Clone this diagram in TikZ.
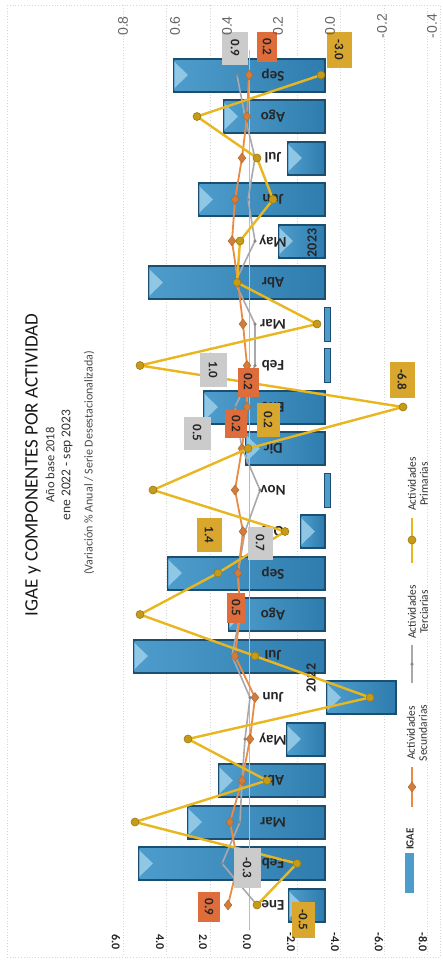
\documentclass[tikz,border=0pt]{standalone}
\usepackage{fontspec}
\setmainfont{Carlito}
\newfontfamily\arialf{Liberation Sans}
\usetikzlibrary{shapes.geometric}
\definecolor{barc}{HTML}{2F7DAE}
\definecolor{barm}{HTML}{4E9CCB}
\definecolor{bard}{HTML}{1B4F72}
\definecolor{barl}{HTML}{A6D6EE}
\definecolor{yelc}{HTML}{E8B61E}
\definecolor{yeld}{HTML}{9C7A10}
\definecolor{orac}{HTML}{E98A45}
\definecolor{orad}{HTML}{B06A28}
\definecolor{grac}{HTML}{A9A9AD}
\definecolor{boxg}{HTML}{CBCBCB}
\definecolor{boxo}{HTML}{DE6D3B}
\definecolor{boxy}{HTML}{D9A62E}
\definecolor{gridc}{HTML}{D6D6D6}
\tikzset{
  mlab/.style={rotate=180, font=\bfseries\fontsize{15}{15}\selectfont, text=black!85, inner sep=0pt},
  dl/.style={rotate=-90, font=\bfseries\fontsize{13}{13}\selectfont, text=black!85, inner sep=0pt},
  lax/.style={rotate=-90, font=\bfseries\fontsize{12}{12}\selectfont, text=black!85, inner sep=0pt},
  rax/.style={rotate=90, font=\arialf\fontsize{14}{14}\selectfont, text=black!60, inner sep=0pt},
  leg/.style={rotate=90, font=\fontsize{11.5}{12}\selectfont, text=black!80, align=center, inner sep=0pt},
  yline/.style={draw=yelc, line width=2.4pt, line join=round},
  oline/.style={draw=orac, line width=1.8pt, line join=round},
  gline/.style={draw=grac, line width=1.6pt, line join=round},
  ymark/.style={circle, fill=yelc!85!black, draw=yeld, line width=0.6pt, minimum size=8pt, inner sep=0pt},
  omark/.style={diamond, fill=orac!90!black, draw=orad, line width=0.5pt, minimum width=8pt, minimum height=10pt, inner sep=0pt},
  gmark/.style={circle, fill=grac!80!black, minimum size=3.5pt, inner sep=0pt},
  gridl/.style={draw=gridc, dotted, line width=0.8pt}
}
\begin{document}
\begin{tikzpicture}[x=1pt,y=-1pt]
\useasboundingbox (0,0) rectangle (443,972);
\fill[white] (0,0) rectangle (443,972);
% frame and grid
\draw[gridl] (7,5) rectangle (440,957);
\foreach \gx in {123,166,210,297,340,384,427} \draw[gridl] (\gx,5) -- (\gx,957);
% bars (wide)
\foreach \i/\a/\b in {0/288/326,1/138/326,2/187/326,3/218/326,4/286/326,5/326/397,6/133/326,7/228/326,8/167/326,9/300/326,11/245/326,12/203/326,15/148/326,16/278/326,17/198/326,18/287/326,19/223/326,20/173/326}{
  \pgfmathsetmacro\yc{905-41.5*\i}
  \fill[bard] (\a,\yc-17.5) rectangle (\b,\yc+17.5);
  \shade[left color=barm, right color=barc] (\a+1.5,\yc-15) rectangle (\b-2.5,\yc+15);
  \fill[barl, opacity=0.75] (\a+1.5,\yc-13) -- (\a+15,\yc) -- (\a+1.5,\yc+13) -- cycle;
}
% thin bars
\foreach \i in {10,13,14}{
  \pgfmathsetmacro\yc{905-41.5*\i}
  \fill[barm] (324,\yc-17) rectangle (330,\yc+17);
  \draw[bard, line width=0.5pt] (324,\yc-17) rectangle (330,\yc+17);
}
% zero line
\draw[gridc!70!gray, line width=0.8pt] (249,50) -- (249,930);
% month labels
\foreach \i/\m in {0/Ene,1/Feb,2/Mar,3/Abr,4/May,5/Jun,6/Jul,7/Ago,8/Sep,9/Oct,10/Nov,11/Dic,12/Ene,13/Feb,14/Mar,15/Abr,16/May,17/Jun,18/Jul,19/Ago,20/Sep}
  \node[mlab] (m\i) at (273,{905-41.5*\i}) {\m};
\node[rotate=90, font=\bfseries\fontsize{14}{14}\selectfont, text=black!85, inner sep=0pt] (y22) at (311,678) {2022};
\node[rotate=90, font=\bfseries\fontsize{14}{14}\selectfont, text=black!85, inner sep=0pt] (y23) at (312,243) {2023};
% series coordinates
\foreach \v [count=\k from 0] in {257,222,240,242,245,250,232,240,238,245,260,242,235,255,255,235,255,248,255,245,237}
  \coordinate (G\k) at (\v,{905-41.5*\k});
\foreach \v [count=\k from 0] in {228,238,230,242,250,255,235,240,238,243,235,242,247,247,243,238,232,235,242,247,249}
  \coordinate (O\k) at (\v,{905-41.5*\k});
\foreach \v [count=\k from 0] in {257,297,135,267,188,370,255,140,218,285,153,248,403,140,317,237,240,273,257,197,321}
  \coordinate (Y\k) at (\v,{905-41.5*\k});
\draw[gline] (G0) \foreach \k in {1,...,20}{ -- (G\k)};
\foreach \k in {0,...,20} \node[gmark] (gm\k) at (G\k) {};
\draw[oline] (O0) \foreach \k in {1,...,20}{ -- (O\k)};
\foreach \k in {0,...,20} \node[omark] (om\k) at (O\k) {};
\draw[yline] (Y0) \foreach \k in {1,...,20}{ -- (Y\k)};
\foreach \k in {0,...,20} \node[ymark] (ym\k) at (Y\k) {};
% data labels
\node[dl, fill=boxg, minimum width=33pt, minimum height=26pt] (d1) at (235,48) {0.9};
\node[dl, fill=boxo, minimum width=30pt, minimum height=20pt] (d2) at (267,47) {0.2};
\node[dl, fill=boxy, minimum width=36pt, minimum height=25pt] (d3) at (339,50) {-3.0};
\node[dl, fill=boxg, minimum width=34pt, minimum height=27pt] (d4) at (213,370) {1.0};
\node[dl, fill=boxo, minimum width=29pt, minimum height=21pt] (d5) at (248,382) {0.2};
\node[dl, fill=boxg, minimum width=33pt, minimum height=27pt] (d6) at (197,433) {0.5};
\node[dl, fill=boxo, minimum width=28pt, minimum height=22pt] (d7) at (236,424) {0.2};
\node[dl, fill=boxy, minimum width=34pt, minimum height=23pt] (d8) at (268,420) {0.2};
\node[dl, fill=boxy, minimum width=36pt, minimum height=25pt] (d9) at (402,380) {-6.8};
\node[dl, fill=boxy, minimum width=34pt, minimum height=25pt] (d10) at (209,535) {1.4};
\node[dl, fill=boxg, minimum width=33pt, minimum height=25pt] (d11) at (260,543) {0.7};
\node[dl, fill=boxo, minimum width=30pt, minimum height=18pt] (d12) at (236,608) {0.5};
\node[dl, fill=boxo, minimum width=30pt, minimum height=22pt] (d13) at (209,907) {0.9};
\node[dl, fill=boxg, minimum width=40pt, minimum height=27pt] (d14) at (247,868) {-0.3};
\node[dl, fill=boxy, minimum width=36pt, minimum height=23pt] (d15) at (303,920) {-0.5};
% axes labels
\foreach \t/\x in {6.0/116,4.0/160,2.0/203,0.0/247,-2.0/291,-4.0/335,-6.0/379,-8.0/423}
  \node[lax] at (\x,942) {\t};
\foreach \t/\x in {0.8/123,0.6/175,0.4/227,0.2/278,0.0/330,-0.2/382,-0.4/432}
  \node[rax] at (\x,26) {\t};
% titles
\node[rotate=90, font=\fontsize{19}{19}\selectfont, text=black!90, inner sep=0pt] (title) at (33,465) {IGAE y COMPONENTES POR ACTIVIDAD};
\node[rotate=90, font=\fontsize{12.5}{12.5}\selectfont, text=black!80, inner sep=0pt] (sub1) at (50,465) {Año base 2018};
\node[rotate=90, font=\fontsize{13.5}{13.5}\selectfont, text=black!80, inner sep=0pt] (sub2) at (67,465) {ene 2022 - sep 2023};
\node[rotate=90, font=\fontsize{12}{12}\selectfont, text=black!70, inner sep=0pt] (sub3) at (89,463) {(Variación \% Anual / Serie Desestacionalizada)};
% legend
\fill[barm] (405,853) rectangle (414,893);
\node[rotate=90, font=\bfseries\fontsize{11}{11}\selectfont, text=black!80, inner sep=0pt] (lg1) at (410,839) {IGAE};
\coordinate (l2a) at (412,807); \coordinate (l2b) at (412,767);
\draw[oline] (l2a) -- (l2b);
\node[omark] at (412,787) {};
\node[leg] (lg2) at (417,733) {Actividades\\Secundarias};
\coordinate (l3a) at (412,683); \coordinate (l3b) at (412,645);
\draw[gline, line width=1.2pt] (l3a) -- (l3b);
\node[gmark] at (412,664) {};
\node[leg] (lg3) at (418,612) {Actividades\\Terciarias};
\coordinate (l4a) at (412,563); \coordinate (l4b) at (412,518);
\draw[yline] (l4a) -- (l4b);
\node[ymark] at (412,540) {};
\node[leg] (lg4) at (418,484) {Actividades\\Primarias};
\end{tikzpicture}
\end{document}
